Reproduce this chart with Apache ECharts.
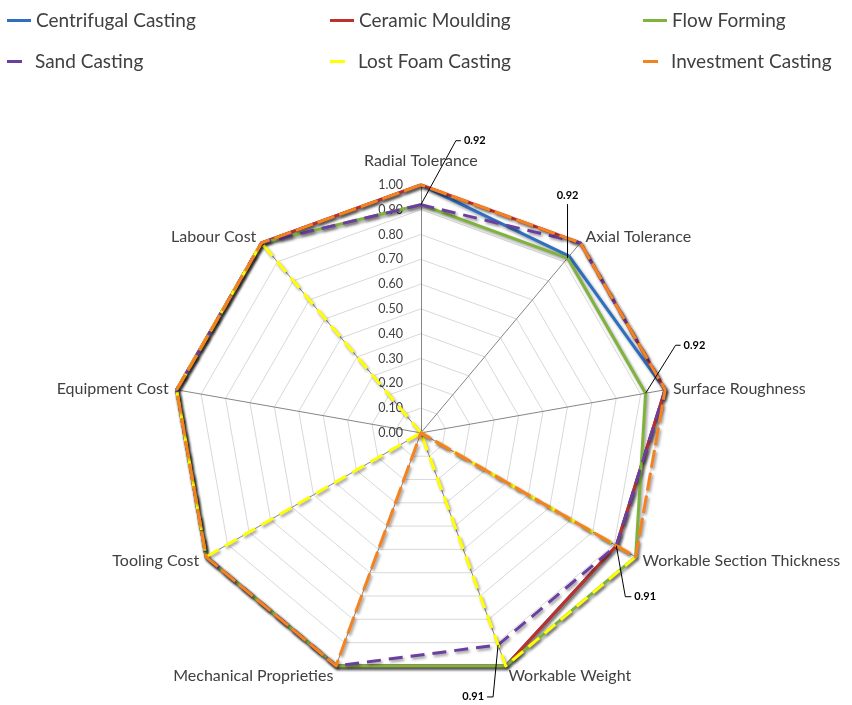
<!DOCTYPE html>
<html>
<head>
<meta charset="utf-8">
<script src="https://cdn.jsdelivr.net/npm/echarts@6/dist/echarts.min.js"></script>
<style>
  html, body { margin: 0; padding: 0; background: #fff; }
  #chart { width: 852px; height: 705px; }
</style>
</head>
<body>
<div id="chart"></div>
<script>
const indicatorNames = ['Radial Tolerance', 'Axial Tolerance', 'Surface Roughness', 'Workable Section Thickness',
  'Workable Weight', 'Mechanical Proprieties', 'Tooling Cost', 'Equipment Cost', 'Labour Cost'];
const seriesNames = ['Centrifugal Casting', 'Ceramic Moulding', 'Flow Forming', 'Sand Casting', 'Lost Foam Casting', 'Investment Casting'];
const centrifugal = [1.00, 0.93, 1.00, 0.91, 1.00, 1.00, 1.00, 1.00, 1.00];
const ceramic = [1.00, 1.00, 1.00, 0.91, 1.00, 1.00, 1.00, 1.00, 1.00];
const flowForming = [0.92, 0.92, 0.92, 1.00, 1.00, 1.00, 1.00, 1.00, 1.00];
const sand = [0.92, 1.00, 1.00, 0.91, 0.91, 1.00, 1.00, 1.00, 1.00];
const lostFoam = [0.00, 0.00, 0.00, 1.00, 1.00, 0.00, 1.00, 1.00, 1.00];
const investment = [1.00, 1.00, 1.00, 1.00, 0.00, 1.00, 1.00, 1.00, 1.00];
const seriesValues = [centrifugal, ceramic, flowForming, sand, lostFoam, investment];

const colors = ['#2f6fc0', '#c0302a', '#7fb33c', '#6b3fa0', '#ffff00', '#f5821f'];
const dashes = ['solid', 'solid', 'solid', [14, 8], [14, 7], [18, 5]];

// radar lays indicators out counter-clockwise, the original goes clockwise
const order = [0, 8, 7, 6, 5, 4, 3, 2, 1];

// callouts: which series / indicator, and where the leader goes
const callouts = [
  { s: 3, i: 0, end: [35, -64], hook: 5, align: 'left' },
  { s: 2, i: 1, end: [0, -54], hook: 0, align: 'center' },
  { s: 2, i: 2, end: [30, -48], hook: 5, align: 'left' },
  { s: 3, i: 3, end: [9, 51], hook: 6, align: 'left' },
  { s: 3, i: 4, end: [-5, 52], hook: -6, align: 'right' }
];

const font = 'Lato, "Open Sans", sans-serif';
const chart = echarts.init(document.getElementById('chart'));

const legends = seriesNames.map((name, k) => {
  const row = Math.floor(k / 3);
  const col = k % 3;
  return {
    data: [name],
    left: [7, 330, 643][col],
    top: row === 0 ? 11 : 52,
    padding: 0,
    icon: 'rect',
    itemWidth: row === 0 ? 24 : 15,
    itemHeight: 3,
    textStyle: {
      color: '#404040', fontSize: 19, fontFamily: font,
      padding: row === 0 ? 0 : [0, 0, 0, 8]
    }
  };
});

const option = {
  backgroundColor: '#fff',
  animation: false,
  legend: legends,
  radar: {
    center: ['49.4%', '61.4%'],
    radius: 248,
    startAngle: 90,
    shape: 'polygon',
    splitNumber: 10,
    nameGap: 8,
    axisName: {
      color: '#404040', fontSize: 16, fontFamily: font,
      formatter: name => name === 'Radial Tolerance' ? '{top|' + name + '}'
        : (name === 'Workable Weight' || name === 'Mechanical Proprieties') ? '{low|' + name + '}' : name,
      rich: {
        top: { fontSize: 16, fontFamily: font, color: '#404040', padding: [0, 0, 8, 0] },
        low: { fontSize: 16, fontFamily: font, color: '#404040', padding: [5, 0, 0, 0] }
      }
    },
    indicator: order.map(i => i === 0
      ? { name: indicatorNames[i], min: 0, max: 1, axisLabel: { show: true } }
      : { name: indicatorNames[i], min: 0, max: 1 }),
    splitLine: { lineStyle: { color: '#d9d9d9', width: 1 } },
    splitArea: { show: false },
    axisLine: { lineStyle: { color: '#868686', width: 1 } },
    axisTick: { show: false },
    axisLabel: {
      show: false, color: '#404040', fontSize: 12.5, fontFamily: font, margin: 18,
      formatter: v => v.toFixed(2)
    }
  },
  series: seriesNames.map((name, k) => ({
    name: name,
    type: 'radar',
    symbol: 'none',
    color: colors[k],
    lineStyle: {
      color: colors[k], width: 3, type: dashes[k],
      shadowColor: 'rgba(0,0,0,0.4)', shadowBlur: 3, shadowOffsetX: 1.5, shadowOffsetY: 2
    },
    data: [{ name: name, value: order.map(i => seriesValues[k][i]) }]
  }))
};
chart.setOption(option);

// leader-line value callouts, placed from the radar's own coordinate system
try {
  const radarCs = chart.getModel().getComponent('radar').coordinateSystem;
  const elements = [];
  callouts.forEach(c => {
    const v = seriesValues[c.s][c.i];
    const p = radarCs.dataToPoint(v, order.indexOf(c.i));
    const e = [p[0] + c.end[0], p[1] + c.end[1]];
    const h = [e[0] + c.hook, e[1]];
    elements.push({
      type: 'polyline',
      shape: { points: [p, e, h] },
      style: { stroke: '#000', lineWidth: 1, fill: null },
      z: 100
    });
    let tx = h[0] + (c.hook > 0 ? 3 : c.hook < 0 ? -3 : 0);
    let ty = c.hook === 0 ? e[1] - 9 : h[1];
    elements.push({
      type: 'text',
      x: tx, y: ty,
      style: {
        text: v.toFixed(2), fill: '#000', fontSize: 11, fontWeight: 'bold', fontFamily: font,
        align: c.align, verticalAlign: 'middle'
      },
      z: 100
    });
  });
  chart.setOption({ graphic: elements });
} catch (err) {
  console.log(err);
}
</script>
</body>
</html>
